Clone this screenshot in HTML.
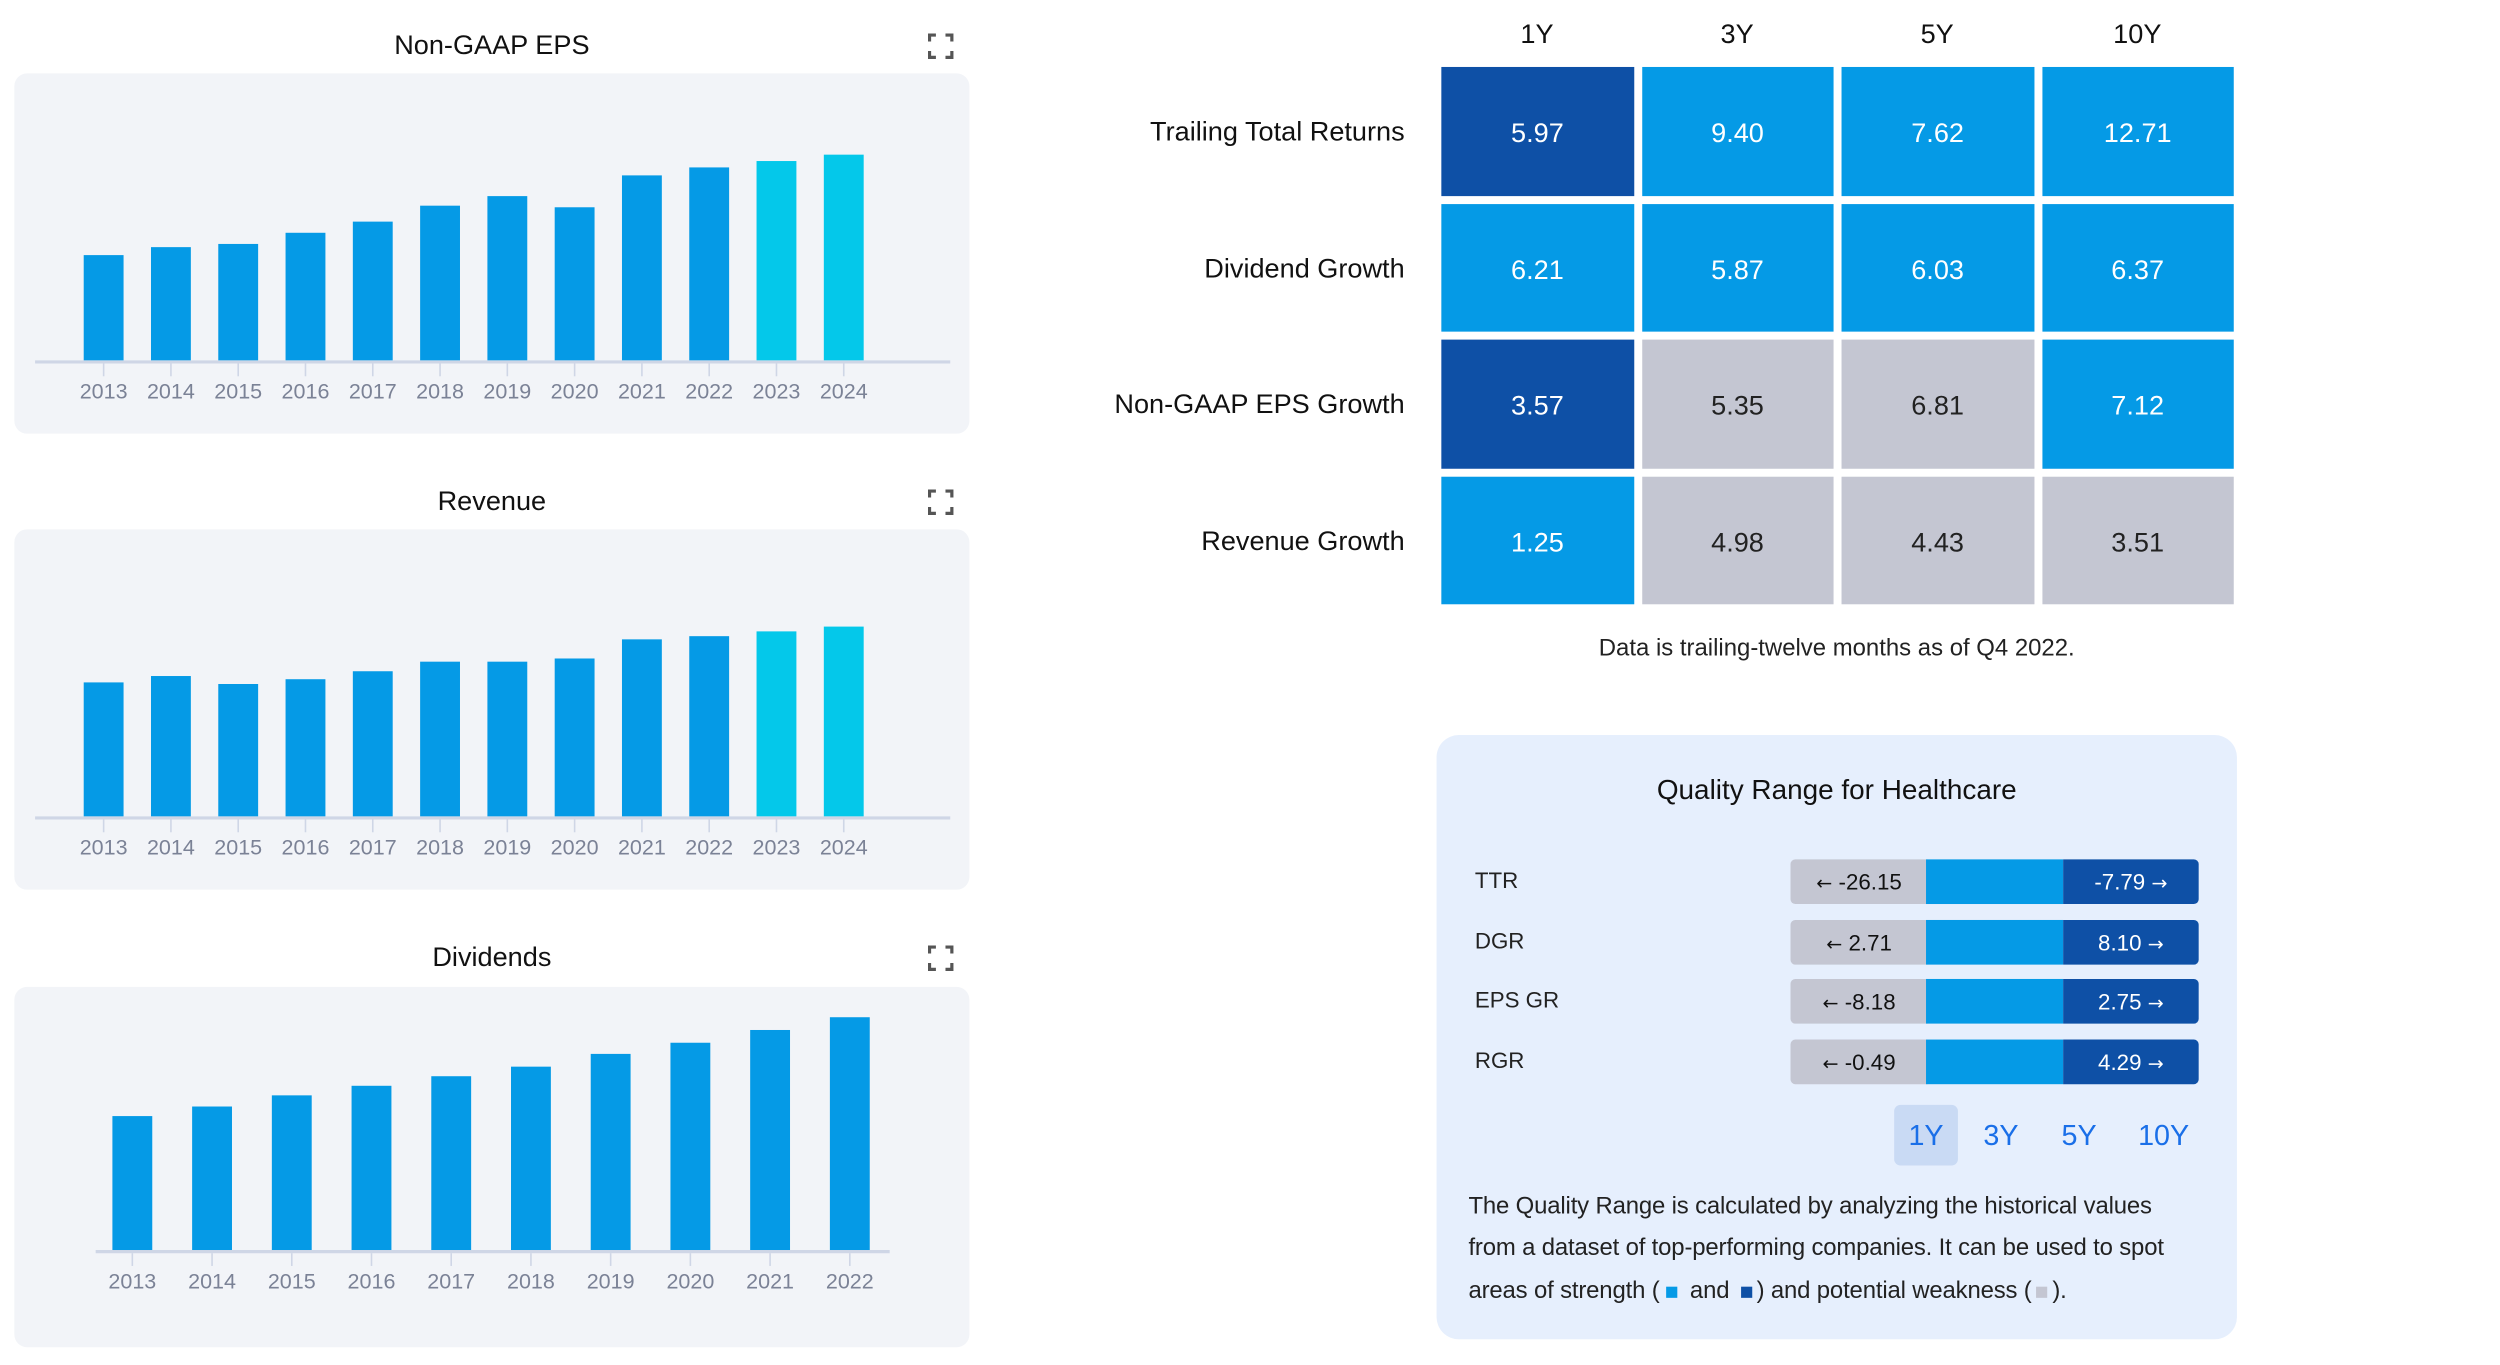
<!DOCTYPE html>
<html><head><meta charset="utf-8"><style>
html,body{margin:0;padding:0;background:#fff;width:2500px;height:1364px;overflow:hidden}
#root{position:absolute;left:0;top:0;width:1568px;height:856px;transform:scale(1.5944);transform-origin:0 0;font-family:"Liberation Sans",sans-serif;color:#111}
.abs{position:absolute}
.panel{position:absolute;left:9px;width:599px;height:226px;background:#f2f4f8;border-radius:8px}
.title{position:absolute;left:9px;width:599px;text-align:center;font-size:17px}
.expand{position:absolute;left:582px;width:16px;height:16px}
.arr{font-family:"DejaVu Sans",sans-serif;font-size:12px}
svg text{font-family:"Liberation Sans",sans-serif}
</style></head><body>
<div id="root">
  <div class="title" style="top:19px">Non-GAAP EPS</div>
  <svg class="expand" style="top:21px" viewBox="0 0 16 16"><path d="M1 5V1h4M11 1h4v4M15 11v4h-4M5 15H1v-4" fill="none" stroke="#555" stroke-width="2"/></svg>
  <div class="panel" style="top:46px"></div>
  <svg id="c1" class="abs" style="left:0;top:0" width="620" height="280"></svg>

  <div class="title" style="top:305px">Revenue</div>
  <svg class="expand" style="top:307px" viewBox="0 0 16 16"><path d="M1 5V1h4M11 1h4v4M15 11v4h-4M5 15H1v-4" fill="none" stroke="#555" stroke-width="2"/></svg>
  <div class="panel" style="top:332px"></div>
  <svg id="c2" class="abs" style="left:0;top:286px" width="620" height="280"></svg>

  <div class="title" style="top:591px">Dividends</div>
  <svg class="expand" style="top:593px" viewBox="0 0 16 16"><path d="M1 5V1h4M11 1h4v4M15 11v4h-4M5 15H1v-4" fill="none" stroke="#555" stroke-width="2"/></svg>
  <div class="panel" style="top:619px"></div>
  <svg id="c3" class="abs" style="left:0;top:573px" width="620" height="280"></svg>

  <div id="heat" class="abs" style="left:0;top:0;width:1560px;height:420px"></div>
  <div class="abs" style="left:904px;top:398px;width:496px;text-align:center;font-size:15px;color:#222">Data is trailing-twelve months as of Q4 2022.</div>

  <div class="abs" style="left:901px;top:461px;width:502px;height:379px;background:#e6effd;border-radius:14px">
    <div class="abs" style="left:0;top:24px;width:502px;text-align:center;font-size:17.5px">Quality Range for Healthcare</div>
    <div id="qr"></div>
    <div class="abs" style="left:287px;top:232px;width:40px;height:38px;background:#c9daf4;border-radius:4px;color:#1a6fe8;font-size:18px;line-height:38px;text-align:center">1Y</div>
    <div class="abs" style="left:334px;top:232px;width:40px;line-height:38px;color:#1a6fe8;font-size:18px;text-align:center">3Y</div>
    <div class="abs" style="left:383px;top:232px;width:40px;line-height:38px;color:#1a6fe8;font-size:18px;text-align:center">5Y</div>
    <div class="abs" style="left:432px;top:232px;width:48px;line-height:38px;color:#1a6fe8;font-size:18px;text-align:center">10Y</div>
    <div class="abs" style="left:20px;top:283px;width:468px;font-size:15px;line-height:26.3px;color:#222;letter-spacing:-0.1px">The Quality Range is calculated by analyzing the historical values<br>from a dataset of top-performing companies. It can be used to spot<br>areas of strength (<span style="display:inline-block;width:7px;height:7px;background:#059ae6;margin:0 4px"></span> and <span style="display:inline-block;width:7px;height:7px;background:#0e50a6;margin:0 3px"></span>) and potential weakness (<span style="display:inline-block;width:7px;height:7px;background:#c4c6d2;margin:0 3px"></span>).</div>
  </div>
</div>
<script>
const NS="http://www.w3.org/2000/svg";
const epsYears=["2013","2014","2015","2016","2017","2018","2019","2020","2021","2022","2023","2024"];
const epsValues=[6.6,7.1,7.3,8.0,8.7,9.7,10.3,9.6,11.6,12.1,12.5,12.9];
const revYears=["2013","2014","2015","2016","2017","2018","2019","2020","2021","2022","2023","2024"];
const revValues=[8.4,8.8,8.3,8.6,9.1,9.7,9.7,9.9,11.1,11.3,11.6,11.9];
const divYears=["2013","2014","2015","2016","2017","2018","2019","2020","2021","2022"];
const divValues=[8.4,9.0,9.7,10.3,10.9,11.5,12.3,13.0,13.8,14.6];
const estimateYears=["2023","2024"];

function el(p,t,a){const e=document.createElementNS(NS,t);for(const k in a)e.setAttribute(k,a[k]);p.appendChild(e);return e;}
function barChart(id,cats,vals,opt){
  const svg=document.getElementById(id);
  const x=i=>opt.x0+i*opt.step;
  const y=v=>opt.base-v*opt.k;
  const ax=el(svg,'line',{x1:opt.ax0,x2:opt.ax1,y1:opt.base+1,y2:opt.base+1,stroke:'#cfd6e6','stroke-width':2});
  
  
  cats.forEach((c,i)=>{
    const r=el(svg,'rect',{x:x(i)-12.5,y:y(vals[i]),width:25,height:vals[i]*opt.k,fill:estimateYears.includes(c)&&opt.est?'#04c8ea':'#059ae6'});
    
    
    el(svg,'line',{x1:x(i),x2:x(i),y1:opt.base+2,y2:opt.base+10,stroke:'#cfd6e6','stroke-width':1});
    const t=el(svg,'text',{x:x(i),y:opt.base+24,'text-anchor':'middle','font-size':13.5,fill:'#7b8296'});
    t.textContent=c;
    
    
  });
}
barChart('c1',epsYears,epsValues,{x0:65,step:42.2,base:226,k:10,ax0:22,ax1:596,est:true});
barChart('c2',revYears,revValues,{x0:65,step:42.2,base:226,k:10,ax0:22,ax1:596,est:true});
barChart('c3',divYears,divValues,{x0:83,step:50,base:211,k:10,ax0:60,ax1:558,est:false});

const hmCols=["1Y","3Y","5Y","10Y"];
const hmRows=["Trailing Total Returns","Dividend Growth","Non-GAAP EPS Growth","Revenue Growth"];
const hmValues=[[5.97,9.40,7.62,12.71],[6.21,5.87,6.03,6.37],[3.57,5.35,6.81,7.12],[1.25,4.98,4.43,3.51]];
const hmLevels=[["dark","blue","blue","blue"],["blue","blue","blue","blue"],["dark","gray","gray","blue"],["blue","gray","gray","gray"]];
const lvlColor={dark:'#0e50a6',blue:'#059ae6',gray:'#c4c6d2'};
const heat=document.getElementById('heat');
function div(p,css,txt){const d=document.createElement('div');d.style.cssText='position:absolute;'+css;if(txt!==undefined)d.textContent=txt;p.appendChild(d);return d;}
hmCols.forEach((c,j)=>{
  const d=div(heat,`left:${904+j*125.5}px;top:12px;width:120px;text-align:center;font-size:17px`,c);
  
  
});
hmRows.forEach((r,i)=>{
  const top=42+i*85.5;
  const l=div(heat,`left:600px;width:281px;top:${top+31}px;text-align:right;font-size:17px`,r);
  
  
  hmCols.forEach((c,j)=>{
    const lv=hmLevels[i][j];
    const cell=div(heat,`left:${904+j*125.5}px;top:${top}px;width:120.5px;height:80.5px;background:${lvlColor[lv]};color:${lv==='gray'?'#222':'#fff'};font-size:17px;line-height:83px;text-align:center`,hmValues[i][j].toFixed(2));
    
    
  });
});

const qrLabels=["TTR","DGR","EPS GR","RGR"];
const qrLow=["-26.15","2.71","-8.18","-0.49"];
const qrHigh=["-7.79","8.10","2.75","4.29"];
const qr=document.getElementById('qr');
qrLabels.forEach((l,i)=>{
  const top=78+i*37.5;
  const lab=div(qr,`left:24px;top:${top+5}px;font-size:14px;color:#222`,l);
  
  
  const lo=div(qr,`left:222px;top:${top}px;width:86px;height:28px;background:#c4c6d2;border-radius:3px 0 0 3px;font-size:14px;line-height:28px;text-align:center;color:#111`);
  lo.innerHTML='<span class="arr">←</span> '+qrLow[i];
  
  
  const mid=div(qr,`left:307px;top:${top}px;width:86px;height:28px;background:#059ae6`);
  
  
  const hi=div(qr,`left:393px;top:${top}px;width:85px;height:28px;background:#0e50a6;border-radius:0 3px 3px 0;font-size:14px;line-height:28px;text-align:center;color:#fff`);
  hi.innerHTML=qrHigh[i]+' <span class="arr">→</span>';
  
  
});
</script>
</body></html>
